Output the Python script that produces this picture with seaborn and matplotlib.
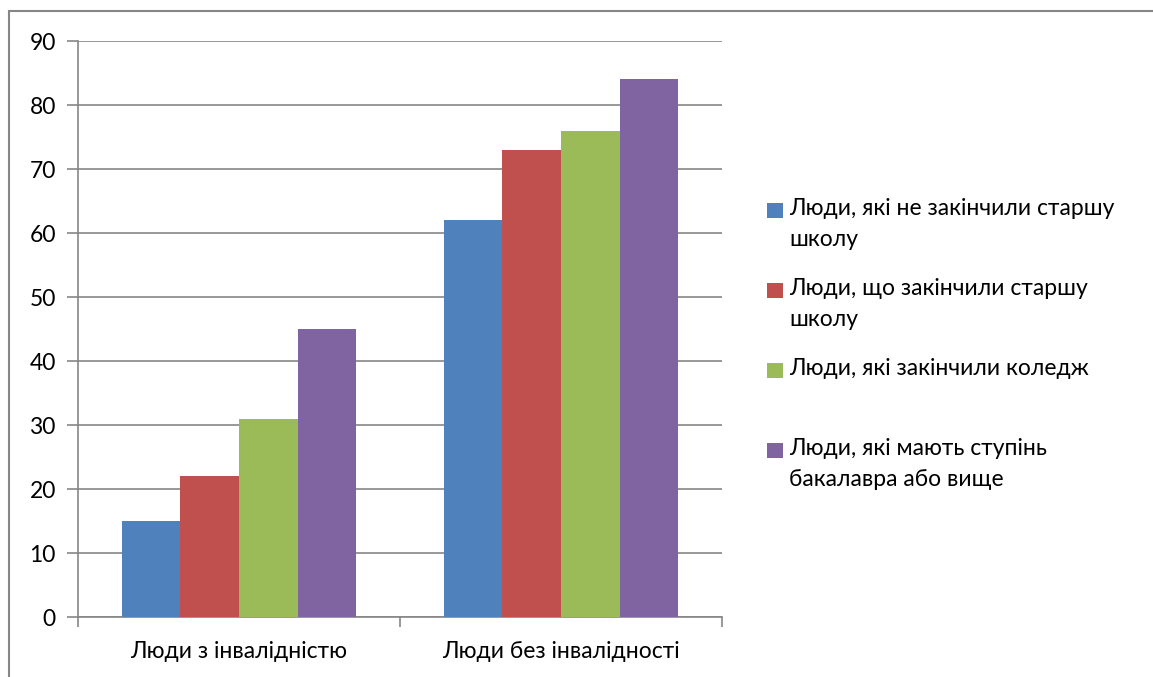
import matplotlib
matplotlib.use("Agg")
import matplotlib.pyplot as plt
from matplotlib.patches import Rectangle
import seaborn as sns
import pandas as pd

# Categories and series
groups = ["Люди з інвалідністю", "Люди без інвалідності"]
series = [
    "Люди, які не закінчили старшу\nшколу",
    "Люди, що закінчили старшу\nшколу",
    "Люди, які закінчили коледж",
    "Люди, які мають ступінь\nбакалавра або вище",
]
no_high_school = [15, 62]
high_school = [22, 73]
college = [31, 76]
bachelor = [45, 84]
yticks = [0, 10, 20, 30, 40, 50, 60, 70, 80, 90]

colors = ["#4F81BD", "#C0504D", "#9BBB59", "#8064A2"]
grid_col = "#868686"
FS = 16.5

rows = []
for name, vals in zip(series, [no_high_school, high_school, college, bachelor]):
    for g, v in zip(groups, vals):
        rows.append({"group": g, "series": name, "value": v})
df = pd.DataFrame(rows)

sns.set_theme(style="white")
plt.rcParams["font.family"] = ["Lato", "DejaVu Sans"]

fig = plt.figure(figsize=(11.53, 6.77), dpi=100)
ax = fig.add_axes([78 / 1153, 1 - 617 / 677, (722 - 78) / 1153, (617 - 41) / 677])

sns.barplot(data=df, x="group", y="value", hue="series", hue_order=series,
            order=groups, palette=colors, width=4 / 5.5, gap=0,
            saturation=1, legend=False, ax=ax, zorder=3)
for p in ax.patches:
    p.set_linewidth(0)

ax.set_xlim(-0.5, 1.5)
ax.set_ylim(0, 90)
ax.set_yticks(yticks)
ax.set_yticklabels([str(t) for t in yticks], fontsize=FS, color="black")
ax.yaxis.grid(True, color=grid_col, linewidth=1.2, zorder=0)
ax.set_axisbelow(True)

# Category labels at centers, boundary ticks between categories
ax.set_xticks([0, 1])
ax.set_xticklabels(groups, fontsize=FS, color="black")
ax.set_xticks([-0.5, 0.5, 1.5], minor=True)
ax.tick_params(axis="x", which="major", length=0, pad=17)
ax.tick_params(axis="x", which="minor", length=7, width=1.2, color=grid_col, bottom=True)
ax.tick_params(axis="y", length=8, width=1.2, color=grid_col, left=True, pad=8)
ax.set_xlabel("")
ax.set_ylabel("")

for side in ["top", "right"]:
    ax.spines[side].set_visible(False)
for side in ["left", "bottom"]:
    ax.spines[side].set_color(grid_col)
    ax.spines[side].set_linewidth(1.2)

# Legend: square marker plus label, one slot per entry
W, H = 1153, 677
slot_top = [203, 283, 363, 443]
for label, col, top in zip(series, colors, slot_top):
    fig.add_artist(Rectangle((767 / W, 1 - (top + 15) / H), 16 / W, 15 / H,
                             transform=fig.transFigure, color=col, lw=0))
    fig.text(789 / W, 1 - (top - 5) / H, label, fontsize=FS, va="top", ha="left",
             linespacing=1.61, color="black")

# Chart frame
fig.add_artist(Rectangle((9 / W, -0.1), 1.2, 1 - 11 / H + 0.1,
                         transform=fig.transFigure, fill=False,
                         edgecolor=grid_col, lw=1.5))

fig.savefig("out.png", dpi=100, facecolor="white")
